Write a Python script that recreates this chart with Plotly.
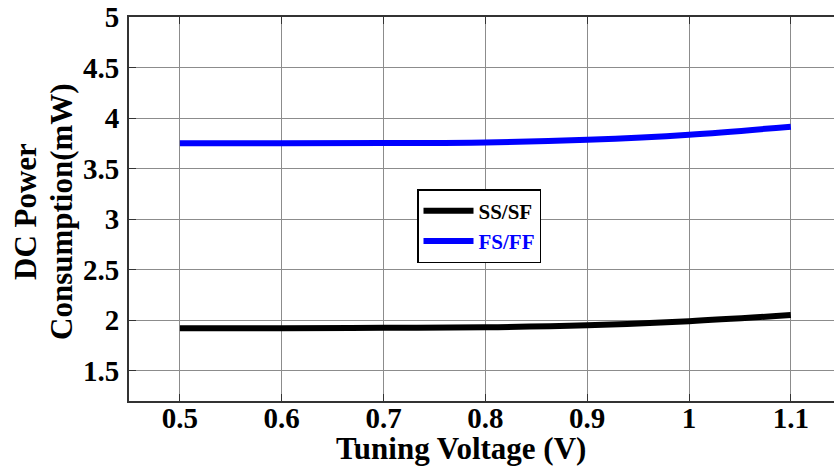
import plotly.graph_objects as go

voltage = [0.5, 0.6, 0.7, 0.8, 0.9, 1.0, 1.1]
ss_sf = [1.92, 1.92, 1.925, 1.93, 1.95, 1.99, 2.05]
fs_ff = [3.75, 3.75, 3.752, 3.758, 3.785, 3.835, 3.915]
x_ticks = [0.5, 0.6, 0.7, 0.8, 0.9, 1.0, 1.1]
x_labels = ["0.5", "0.6", "0.7", "0.8", "0.9", "1", "1.1"]
y_ticks = [1.5, 2, 2.5, 3, 3.5, 4, 4.5, 5]
y_labels = ["1.5", "2", "2.5", "3", "3.5", "4", "4.5", "5"]

font_family = "Liberation Serif, Times New Roman, serif"
W, H = 834, 469
L, R, T, B = 129, 0, 17, 68
pw = W - L - R
ph = H - T - B

fig = go.Figure()
fig.add_trace(go.Scatter(x=voltage, y=ss_sf, mode="lines", name="SS/SF",
                         line=dict(color="black", width=6, shape="spline")))
fig.add_trace(go.Scatter(x=voltage, y=fs_ff, mode="lines",
                         name="<span style='color:blue'>FS/FF</span>",
                         line=dict(color="blue", width=6, shape="spline")))

axis_common = dict(showgrid=True, gridcolor="#8c8c8c", gridwidth=1,
                   showline=True, linecolor="#333333", linewidth=2,
                   ticks="inside", ticklen=7, tickcolor="#333333",
                   zeroline=False, automargin=False,
                   tickfont=dict(family=font_family, size=29, color="black", weight="bold"))

title_font = dict(family=font_family, size=31, color="black", weight="bold")

fig.update_layout(
    width=W, height=H,
    margin=dict(l=L, r=R, t=T, b=B),
    paper_bgcolor="white", plot_bgcolor="white",
    font=dict(family=font_family, color="black"),
    showlegend=True,
    legend=dict(x=(417 - L) / pw, y=(H - B - 189) / ph, xanchor="left", yanchor="top",
                bordercolor="black", borderwidth=1.5, bgcolor="white",
                font=dict(family=font_family, size=21, color="black", weight="bold"),
                itemwidth=50, tracegroupgap=0),
    xaxis=dict(range=[0.45, 1.1424], tickvals=x_ticks, ticktext=x_labels,
               mirror="ticks", ticklabelstandoff=-10, **axis_common),
    yaxis=dict(range=[1.2, 5], tickvals=y_ticks, ticktext=y_labels,
               mirror=False, ticklabelstandoff=2, **axis_common),
    annotations=[
        dict(text="Tuning Voltage (V)", xref="paper", yref="paper",
             x=(461 - L) / pw, y=-(448 - (H - B)) / ph, xanchor="center", yanchor="middle",
             showarrow=False, font=title_font),
        dict(text="DC Power", xref="paper", yref="paper", textangle=-90,
             x=(25 - L) / pw, y=(H - B - 212) / ph, xanchor="center", yanchor="middle",
             showarrow=False, font=title_font),
        dict(text="Consumption(mW)", xref="paper", yref="paper", textangle=-90,
             x=(61 - L) / pw, y=(H - B - 212) / ph, xanchor="center", yanchor="middle",
             showarrow=False, font=title_font),
    ],
)

fig.write_html("out.html", config={"displayModeBar": False})

with open("out.html", "r", encoding="utf-8") as f:
    html = f.read()
html = html.replace("<head>", "<head><style>html,body{margin:0;padding:0;overflow:hidden;}</style>", 1)
with open("out.html", "w", encoding="utf-8") as f:
    f.write(html)
